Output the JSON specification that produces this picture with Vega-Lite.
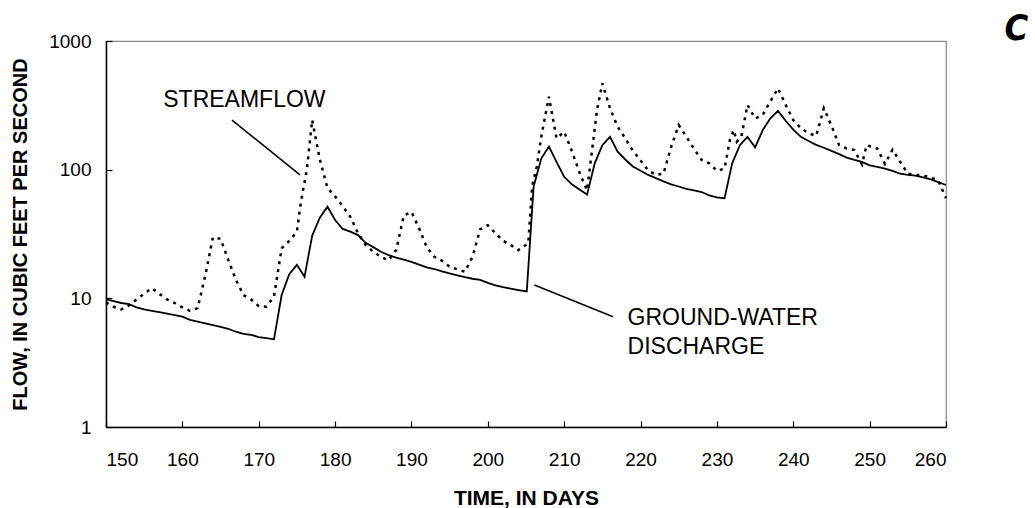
{
  "$schema": "https://vega.github.io/schema/vega-lite/v6.json",
  "width": 840,
  "height": 386,
  "autosize": {"type": "none"},
  "padding": {"left": 106, "top": 41, "right": 89, "bottom": 81},
  "background": "white",
  "config": {
    "view": {"stroke": "#888888", "strokeWidth": 1.2},
    "font": "Liberation Sans",
    "axis": {
      "grid": false,
      "domainColor": "black",
      "domainWidth": 1.5,
      "tickColor": "black",
      "tickWidth": 1.2,
      "tickSize": -6,
      "labelFont": "Liberation Sans",
      "labelFontSize": 19,
      "labelColor": "black",
      "titleFont": "Liberation Sans",
      "titleFontSize": 20,
      "titleFontWeight": "bold",
      "titleColor": "black"
    }
  },
  "datasets": {
    "flow": [
      {"day": 150, "series": "Streamflow", "flow": 9.3},
      {"day": 151, "series": "Streamflow", "flow": 8.6},
      {"day": 152, "series": "Streamflow", "flow": 8.2},
      {"day": 153, "series": "Streamflow", "flow": 8.8},
      {"day": 154, "series": "Streamflow", "flow": 9.8},
      {"day": 156, "series": "Streamflow", "flow": 12},
      {"day": 157, "series": "Streamflow", "flow": 10.8},
      {"day": 158, "series": "Streamflow", "flow": 9.8},
      {"day": 159, "series": "Streamflow", "flow": 9.2},
      {"day": 160, "series": "Streamflow", "flow": 8.5},
      {"day": 161, "series": "Streamflow", "flow": 8.0},
      {"day": 162, "series": "Streamflow", "flow": 8.4},
      {"day": 163, "series": "Streamflow", "flow": 15},
      {"day": 164, "series": "Streamflow", "flow": 29.8},
      {"day": 165, "series": "Streamflow", "flow": 29},
      {"day": 166, "series": "Streamflow", "flow": 20},
      {"day": 167, "series": "Streamflow", "flow": 14},
      {"day": 168, "series": "Streamflow", "flow": 10.6},
      {"day": 169, "series": "Streamflow", "flow": 9.8},
      {"day": 170, "series": "Streamflow", "flow": 8.7},
      {"day": 171, "series": "Streamflow", "flow": 8.6},
      {"day": 172, "series": "Streamflow", "flow": 10.3},
      {"day": 173, "series": "Streamflow", "flow": 24.5},
      {"day": 174, "series": "Streamflow", "flow": 28},
      {"day": 175, "series": "Streamflow", "flow": 33},
      {"day": 175.5, "series": "Streamflow", "flow": 55},
      {"day": 176.3, "series": "Streamflow", "flow": 100},
      {"day": 177, "series": "Streamflow", "flow": 243},
      {"day": 178, "series": "Streamflow", "flow": 120},
      {"day": 179, "series": "Streamflow", "flow": 72},
      {"day": 180, "series": "Streamflow", "flow": 62},
      {"day": 181, "series": "Streamflow", "flow": 52},
      {"day": 182, "series": "Streamflow", "flow": 43},
      {"day": 183, "series": "Streamflow", "flow": 32},
      {"day": 184, "series": "Streamflow", "flow": 26},
      {"day": 185, "series": "Streamflow", "flow": 23},
      {"day": 186, "series": "Streamflow", "flow": 21},
      {"day": 187, "series": "Streamflow", "flow": 19.8},
      {"day": 188, "series": "Streamflow", "flow": 23.7},
      {"day": 189, "series": "Streamflow", "flow": 44},
      {"day": 190, "series": "Streamflow", "flow": 47},
      {"day": 191, "series": "Streamflow", "flow": 35},
      {"day": 192, "series": "Streamflow", "flow": 25},
      {"day": 193, "series": "Streamflow", "flow": 21},
      {"day": 194, "series": "Streamflow", "flow": 19.6},
      {"day": 195, "series": "Streamflow", "flow": 17.6},
      {"day": 196, "series": "Streamflow", "flow": 16.8},
      {"day": 197, "series": "Streamflow", "flow": 16.1},
      {"day": 198, "series": "Streamflow", "flow": 21},
      {"day": 199, "series": "Streamflow", "flow": 34.4},
      {"day": 200, "series": "Streamflow", "flow": 37},
      {"day": 201, "series": "Streamflow", "flow": 32},
      {"day": 202, "series": "Streamflow", "flow": 28},
      {"day": 203, "series": "Streamflow", "flow": 26},
      {"day": 204, "series": "Streamflow", "flow": 23.7},
      {"day": 205.3, "series": "Streamflow", "flow": 26.8},
      {"day": 205.8, "series": "Streamflow", "flow": 74},
      {"day": 206.4, "series": "Streamflow", "flow": 105},
      {"day": 207, "series": "Streamflow", "flow": 180},
      {"day": 208, "series": "Streamflow", "flow": 369},
      {"day": 209, "series": "Streamflow", "flow": 175},
      {"day": 210, "series": "Streamflow", "flow": 197},
      {"day": 211, "series": "Streamflow", "flow": 140},
      {"day": 212, "series": "Streamflow", "flow": 95},
      {"day": 213, "series": "Streamflow", "flow": 69},
      {"day": 213.6, "series": "Streamflow", "flow": 134},
      {"day": 214.3, "series": "Streamflow", "flow": 291},
      {"day": 215, "series": "Streamflow", "flow": 469},
      {"day": 216, "series": "Streamflow", "flow": 300},
      {"day": 217, "series": "Streamflow", "flow": 216},
      {"day": 218, "series": "Streamflow", "flow": 175},
      {"day": 219, "series": "Streamflow", "flow": 140},
      {"day": 220, "series": "Streamflow", "flow": 118},
      {"day": 221, "series": "Streamflow", "flow": 99},
      {"day": 222, "series": "Streamflow", "flow": 91},
      {"day": 223, "series": "Streamflow", "flow": 93},
      {"day": 224, "series": "Streamflow", "flow": 150},
      {"day": 225, "series": "Streamflow", "flow": 222},
      {"day": 226, "series": "Streamflow", "flow": 180},
      {"day": 227, "series": "Streamflow", "flow": 145},
      {"day": 228, "series": "Streamflow", "flow": 119},
      {"day": 229, "series": "Streamflow", "flow": 112},
      {"day": 230, "series": "Streamflow", "flow": 98},
      {"day": 231, "series": "Streamflow", "flow": 102},
      {"day": 231.7, "series": "Streamflow", "flow": 170},
      {"day": 232.2, "series": "Streamflow", "flow": 203},
      {"day": 232.6, "series": "Streamflow", "flow": 165},
      {"day": 233.2, "series": "Streamflow", "flow": 180},
      {"day": 234, "series": "Streamflow", "flow": 318},
      {"day": 235, "series": "Streamflow", "flow": 250},
      {"day": 236, "series": "Streamflow", "flow": 266},
      {"day": 237, "series": "Streamflow", "flow": 340},
      {"day": 238, "series": "Streamflow", "flow": 429},
      {"day": 239, "series": "Streamflow", "flow": 320},
      {"day": 240, "series": "Streamflow", "flow": 243},
      {"day": 241, "series": "Streamflow", "flow": 210},
      {"day": 242, "series": "Streamflow", "flow": 192},
      {"day": 243, "series": "Streamflow", "flow": 183},
      {"day": 244, "series": "Streamflow", "flow": 300},
      {"day": 245, "series": "Streamflow", "flow": 220},
      {"day": 246, "series": "Streamflow", "flow": 155},
      {"day": 247, "series": "Streamflow", "flow": 146},
      {"day": 248, "series": "Streamflow", "flow": 142},
      {"day": 249, "series": "Streamflow", "flow": 110},
      {"day": 249.6, "series": "Streamflow", "flow": 155},
      {"day": 251, "series": "Streamflow", "flow": 146},
      {"day": 252, "series": "Streamflow", "flow": 111},
      {"day": 253, "series": "Streamflow", "flow": 143},
      {"day": 254, "series": "Streamflow", "flow": 115},
      {"day": 255, "series": "Streamflow", "flow": 93},
      {"day": 256, "series": "Streamflow", "flow": 91},
      {"day": 257, "series": "Streamflow", "flow": 90},
      {"day": 258, "series": "Streamflow", "flow": 87},
      {"day": 259, "series": "Streamflow", "flow": 82},
      {"day": 260, "series": "Streamflow", "flow": 60},
      {"day": 150, "series": "Ground-water discharge", "flow": 9.8},
      {"day": 151, "series": "Ground-water discharge", "flow": 9.5},
      {"day": 152, "series": "Ground-water discharge", "flow": 9.2},
      {"day": 153, "series": "Ground-water discharge", "flow": 9.0},
      {"day": 154, "series": "Ground-water discharge", "flow": 8.5},
      {"day": 155, "series": "Ground-water discharge", "flow": 8.2},
      {"day": 156, "series": "Ground-water discharge", "flow": 8.0},
      {"day": 157, "series": "Ground-water discharge", "flow": 7.8},
      {"day": 158, "series": "Ground-water discharge", "flow": 7.6},
      {"day": 159, "series": "Ground-water discharge", "flow": 7.4},
      {"day": 160, "series": "Ground-water discharge", "flow": 7.2},
      {"day": 161, "series": "Ground-water discharge", "flow": 6.8},
      {"day": 162, "series": "Ground-water discharge", "flow": 6.6},
      {"day": 163, "series": "Ground-water discharge", "flow": 6.4},
      {"day": 164, "series": "Ground-water discharge", "flow": 6.2},
      {"day": 165, "series": "Ground-water discharge", "flow": 6.0},
      {"day": 166, "series": "Ground-water discharge", "flow": 5.8},
      {"day": 167, "series": "Ground-water discharge", "flow": 5.5},
      {"day": 168, "series": "Ground-water discharge", "flow": 5.3},
      {"day": 169, "series": "Ground-water discharge", "flow": 5.2},
      {"day": 170, "series": "Ground-water discharge", "flow": 5.0},
      {"day": 171, "series": "Ground-water discharge", "flow": 4.9},
      {"day": 172, "series": "Ground-water discharge", "flow": 4.8},
      {"day": 173, "series": "Ground-water discharge", "flow": 10.6},
      {"day": 174, "series": "Ground-water discharge", "flow": 15.4},
      {"day": 175, "series": "Ground-water discharge", "flow": 18.2},
      {"day": 176, "series": "Ground-water discharge", "flow": 14.7},
      {"day": 177, "series": "Ground-water discharge", "flow": 30.7},
      {"day": 178, "series": "Ground-water discharge", "flow": 42.4},
      {"day": 179, "series": "Ground-water discharge", "flow": 51.5},
      {"day": 180, "series": "Ground-water discharge", "flow": 40.6},
      {"day": 181, "series": "Ground-water discharge", "flow": 34.6},
      {"day": 182, "series": "Ground-water discharge", "flow": 33},
      {"day": 183, "series": "Ground-water discharge", "flow": 31},
      {"day": 184, "series": "Ground-water discharge", "flow": 27},
      {"day": 185, "series": "Ground-water discharge", "flow": 25},
      {"day": 186, "series": "Ground-water discharge", "flow": 23},
      {"day": 187, "series": "Ground-water discharge", "flow": 21.7},
      {"day": 188, "series": "Ground-water discharge", "flow": 20.7},
      {"day": 189, "series": "Ground-water discharge", "flow": 20},
      {"day": 190, "series": "Ground-water discharge", "flow": 19.2},
      {"day": 191, "series": "Ground-water discharge", "flow": 18.3},
      {"day": 192, "series": "Ground-water discharge", "flow": 17.4},
      {"day": 193, "series": "Ground-water discharge", "flow": 16.9},
      {"day": 194, "series": "Ground-water discharge", "flow": 16.2},
      {"day": 195, "series": "Ground-water discharge", "flow": 15.6},
      {"day": 196, "series": "Ground-water discharge", "flow": 15.1},
      {"day": 197, "series": "Ground-water discharge", "flow": 14.6},
      {"day": 198, "series": "Ground-water discharge", "flow": 14.2},
      {"day": 199, "series": "Ground-water discharge", "flow": 13.9},
      {"day": 200, "series": "Ground-water discharge", "flow": 13.2},
      {"day": 201, "series": "Ground-water discharge", "flow": 12.6},
      {"day": 202, "series": "Ground-water discharge", "flow": 12.2},
      {"day": 203, "series": "Ground-water discharge", "flow": 11.9},
      {"day": 204, "series": "Ground-water discharge", "flow": 11.6},
      {"day": 205.1, "series": "Ground-water discharge", "flow": 11.3},
      {"day": 206, "series": "Ground-water discharge", "flow": 74},
      {"day": 207, "series": "Ground-water discharge", "flow": 122},
      {"day": 208, "series": "Ground-water discharge", "flow": 151},
      {"day": 209, "series": "Ground-water discharge", "flow": 115},
      {"day": 210, "series": "Ground-water discharge", "flow": 88},
      {"day": 211, "series": "Ground-water discharge", "flow": 77},
      {"day": 212, "series": "Ground-water discharge", "flow": 70},
      {"day": 213, "series": "Ground-water discharge", "flow": 64},
      {"day": 214, "series": "Ground-water discharge", "flow": 112},
      {"day": 215, "series": "Ground-water discharge", "flow": 155},
      {"day": 216, "series": "Ground-water discharge", "flow": 180},
      {"day": 217, "series": "Ground-water discharge", "flow": 138},
      {"day": 218, "series": "Ground-water discharge", "flow": 120},
      {"day": 219, "series": "Ground-water discharge", "flow": 106},
      {"day": 220, "series": "Ground-water discharge", "flow": 98},
      {"day": 221, "series": "Ground-water discharge", "flow": 91},
      {"day": 222, "series": "Ground-water discharge", "flow": 86},
      {"day": 223, "series": "Ground-water discharge", "flow": 81},
      {"day": 224, "series": "Ground-water discharge", "flow": 77},
      {"day": 225, "series": "Ground-water discharge", "flow": 74},
      {"day": 226, "series": "Ground-water discharge", "flow": 71},
      {"day": 227, "series": "Ground-water discharge", "flow": 69},
      {"day": 228, "series": "Ground-water discharge", "flow": 67},
      {"day": 229, "series": "Ground-water discharge", "flow": 63},
      {"day": 230, "series": "Ground-water discharge", "flow": 61},
      {"day": 231, "series": "Ground-water discharge", "flow": 60},
      {"day": 232, "series": "Ground-water discharge", "flow": 112},
      {"day": 233, "series": "Ground-water discharge", "flow": 155},
      {"day": 234, "series": "Ground-water discharge", "flow": 180},
      {"day": 235, "series": "Ground-water discharge", "flow": 149},
      {"day": 236, "series": "Ground-water discharge", "flow": 203},
      {"day": 237, "series": "Ground-water discharge", "flow": 251},
      {"day": 238, "series": "Ground-water discharge", "flow": 286},
      {"day": 239, "series": "Ground-water discharge", "flow": 240},
      {"day": 240, "series": "Ground-water discharge", "flow": 205},
      {"day": 241, "series": "Ground-water discharge", "flow": 180},
      {"day": 242, "series": "Ground-water discharge", "flow": 167},
      {"day": 243, "series": "Ground-water discharge", "flow": 156},
      {"day": 244, "series": "Ground-water discharge", "flow": 148},
      {"day": 245, "series": "Ground-water discharge", "flow": 140},
      {"day": 246, "series": "Ground-water discharge", "flow": 132},
      {"day": 247, "series": "Ground-water discharge", "flow": 124},
      {"day": 248, "series": "Ground-water discharge", "flow": 119},
      {"day": 249, "series": "Ground-water discharge", "flow": 115},
      {"day": 250, "series": "Ground-water discharge", "flow": 108},
      {"day": 251, "series": "Ground-water discharge", "flow": 105},
      {"day": 252, "series": "Ground-water discharge", "flow": 102},
      {"day": 253, "series": "Ground-water discharge", "flow": 98},
      {"day": 254, "series": "Ground-water discharge", "flow": 93},
      {"day": 255, "series": "Ground-water discharge", "flow": 91},
      {"day": 256, "series": "Ground-water discharge", "flow": 90},
      {"day": 257, "series": "Ground-water discharge", "flow": 87},
      {"day": 258, "series": "Ground-water discharge", "flow": 84},
      {"day": 259, "series": "Ground-water discharge", "flow": 80},
      {"day": 260, "series": "Ground-water discharge", "flow": 76}
    ],
    "leaders": [
      {"day": 166.5, "flow": 243, "day2": 175.4, "flow2": 91},
      {"day": 206.1, "flow": 12.7, "day2": 216.4, "flow2": 7.2}
    ],
    "labels": [
      {"day": 157.5, "flow": 308, "text": "STREAMFLOW"},
      {"day": 218.3, "flow": 6.2, "text": "GROUND-WATER"},
      {"day": 218.3, "flow": 3.69, "text": "DISCHARGE"}
    ],
    "panel": [
      {"day": 269.2, "flow": 1018, "text": "C"}
    ]
  },
  "layer": [
    {
      "data": {"name": "flow"},
      "transform": [{"filter": "datum.series === 'Ground-water discharge'"}],
      "mark": {"type": "line", "color": "black", "strokeWidth": 1.8},
      "encoding": {
        "x": {
          "field": "day", "type": "quantitative",
          "scale": {"domain": [150, 260], "nice": false, "zero": false},
          "axis": {"title": "TIME, IN DAYS", "titleFontSize": 21, "values": [150,160,170,180,190,200,210,220,230,240,250,260], "format": "d", "labelPadding": 29, "titlePadding": 18}
        },
        "y": {
          "field": "flow", "type": "quantitative",
          "scale": {"type": "log", "domain": [1, 1000], "nice": false},
          "axis": {"title": "FLOW, IN CUBIC FEET PER SECOND", "values": [1, 10, 100, 1000], "format": "d", "labelPadding": 21, "titlePadding": 18}
        }
      }
    },
    {
      "data": {"name": "flow"},
      "transform": [{"filter": "datum.series === 'Streamflow'"}],
      "mark": {"type": "line", "color": "black", "strokeWidth": 2.5, "strokeDash": [3, 5]},
      "encoding": {
        "x": {"field": "day", "type": "quantitative"},
        "y": {"field": "flow", "type": "quantitative"}
      }
    },
    {
      "data": {"name": "leaders"},
      "mark": {"type": "rule", "color": "black", "strokeWidth": 1.5},
      "encoding": {
        "x": {"field": "day", "type": "quantitative"},
        "y": {"field": "flow", "type": "quantitative"},
        "x2": {"field": "day2"},
        "y2": {"field": "flow2"}
      }
    },
    {
      "data": {"name": "labels"},
      "mark": {"type": "text", "align": "left", "baseline": "alphabetic", "font": "Liberation Sans", "fontSize": 23, "color": "black"},
      "encoding": {
        "x": {"field": "day", "type": "quantitative"},
        "y": {"field": "flow", "type": "quantitative"},
        "text": {"field": "text"}
      }
    },
    {
      "data": {"name": "panel"},
      "mark": {"type": "text", "align": "center", "baseline": "alphabetic", "font": "Liberation Sans Narrow, DejaVu Sans Condensed, Liberation Sans", "fontSize": 36, "fontStyle": "italic", "fontWeight": "bold", "color": "black"},
      "encoding": {
        "x": {"field": "day", "type": "quantitative"},
        "y": {"field": "flow", "type": "quantitative"},
        "text": {"field": "text"}
      }
    }
  ]
}
